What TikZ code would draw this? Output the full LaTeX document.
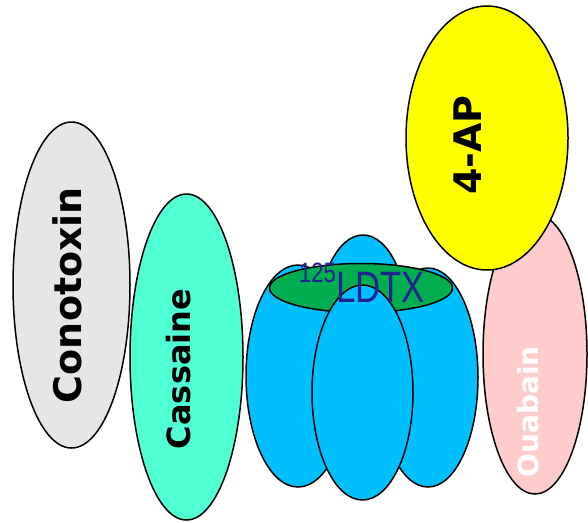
\documentclass[tikz,border=0pt]{standalone}
\usepackage{fontspec}
\usepackage{graphicx}
\setmainfont{Liberation Sans}
\newfontfamily\toxfont{DejaVu Sans}
\usetikzlibrary{
  shapes.geometric,
  positioning
}
\definecolor{chGrey}{HTML}{E6E6E6}
\definecolor{chAqua}{HTML}{50FFD4}
\definecolor{chBlue}{HTML}{00BFFF}
\definecolor{chGreen}{HTML}{00AD4F}
\definecolor{chYellow}{HTML}{FFFF00}
\definecolor{chPink}{HTML}{FFCCCC}
\definecolor{chInk}{HTML}{23238E}
\tikzset{
  blob/.style={draw, ellipse, line width=1.5pt, inner sep=0pt, outer sep=0pt},
  lobe/.style={blob, fill=chBlue},
  toxlabel/.style={rotate=90, inner sep=0pt, font=\toxfont\bfseries},
  dtxlabel/.style={inner sep=0pt, text=chInk, anchor=base}
}

\begin{document}
\begin{tikzpicture}[x=1pt, y=-1pt]
  \useasboundingbox (0,0) rectangle (588,522);
  % side ellipses
  \node[blob, fill=chGrey, minimum width=117pt, minimum height=326pt] (grey) at (71.5,285) {};
  \node[blob, fill=chAqua, minimum width=113pt, minimum height=326pt] (aqua) at (186.5,357) {};
  % channel
  \node[lobe, minimum width=92pt, minimum height=190pt] (back) at (363,330) {};
  \node[lobe, minimum width=104pt, minimum height=222pt] (left) at (298,376) {};
  \node[lobe, minimum width=100pt, minimum height=219pt] (right) at (428,377.5) {};
  \node[blob, fill=chGreen, minimum width=183pt, minimum height=49pt] (pore) at (361,288) {};
  \node[lobe, minimum width=101pt, minimum height=215pt] (front) at (362.5,392.5) {};
  \node[dtxlabel] (dtx) at (362,302)
    {\scalebox{0.79}[1]{\fontsize{28}{28}\selectfont\raisebox{20pt}{125}\fontsize{44}{44}\selectfont LDTX}};
  % right ellipses
  \node[blob, fill=chPink, minimum width=104pt, minimum height=280pt] (pink) at (535,354) {};
  \node[blob, fill=chYellow, minimum width=162pt, minimum height=264pt] (yellow) at (487,138) {};
  % toxin names
  \node[toxlabel, font=\toxfont\bfseries\fontsize{38}{38}\selectfont] (conotoxin) at (67,295) {Conotoxin};
  \node[toxlabel, font=\toxfont\bfseries\fontsize{32}{32}\selectfont] (cassaine) at (179,369) {Cassaine};
  \node[toxlabel, font=\toxfont\bfseries\fontsize{38}{38}\selectfont] (fourap) at (468,145) {4-AP};
  \node[toxlabel, text=white, font=\toxfont\bfseries\fontsize{28}{28}\selectfont] (ouabain) at (528,412) {Ouabain};
\end{tikzpicture}
\end{document}
